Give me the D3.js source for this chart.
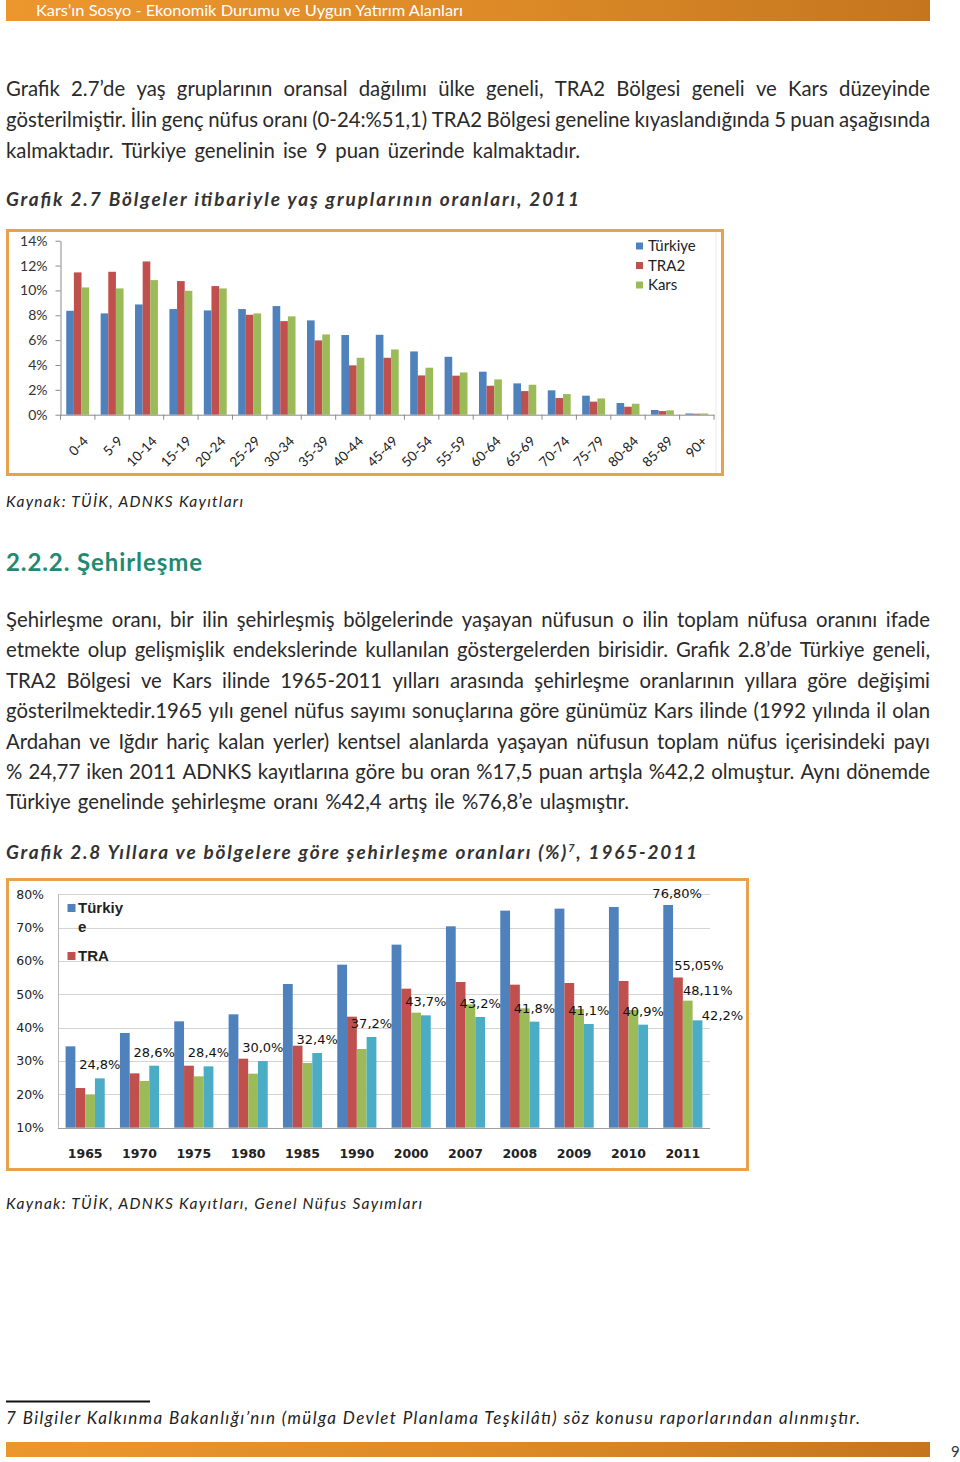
<!DOCTYPE html>
<html><head><meta charset="utf-8">
<script src="https://cdn.jsdelivr.net/npm/d3@7"></script>
<style>
html,body{margin:0;padding:0;background:#fff;}
svg{display:block;}
</style></head>
<body>
<script>
// ---------- DATA ----------
const ageGroups = ["0-4","5-9","10-14","15-19","20-24","25-29","30-34","35-39","40-44","45-49","50-54","55-59","60-64","65-69","70-74","75-79","80-84","85-89","90+"];
const ageTurkiye = [8.36,8.15,8.87,8.50,8.39,8.50,8.74,7.59,6.41,6.43,5.09,4.66,3.46,2.52,1.96,1.53,0.94,0.38,0.10];
const ageTRA2    = [11.45,11.50,12.33,10.75,10.35,8.04,7.53,5.98,3.97,4.58,3.16,3.14,2.33,1.90,1.34,1.05,0.64,0.29,0.08];
const ageKars    = [10.24,10.16,10.83,9.97,10.16,8.15,7.91,6.46,4.58,5.25,3.78,3.40,2.84,2.41,1.66,1.31,0.88,0.35,0.10];
const ageSeries = ["Türkiye","TRA2","Kars"];
const ageTicks = [0,2,4,6,8,10,12,14];

const years = ["1965","1970","1975","1980","1985","1990","2000","2007","2008","2009","2010","2011"];
const urbTurkiye = [34.4,38.4,41.9,44.0,53.1,58.9,64.9,70.4,75.1,75.7,76.2,76.8];
const urbTRA2    = [21.9,26.3,28.6,30.7,34.6,43.3,51.7,53.7,52.9,53.4,54.0,55.05];
const urbSeries3 = [19.9,24.0,25.4,26.2,29.4,33.6,44.5,47.0,45.8,45.6,45.3,48.11];
const urbKars    = [24.8,28.6,28.4,30.0,32.4,37.2,43.7,43.2,41.8,41.1,40.9,42.2];
const urbTicks = [10,20,30,40,50,60,70,80];
const urbLegend = [["Türkiy","e"],["TRA"]];
const lastYearLabels = ["76,80%","55,05%","48,11%","42,2%"];

// ---------- TEXT ----------
const para1 = [
 "Grafik 2.7’de yaş gruplarının oransal dağılımı ülke geneli, TRA2 Bölgesi geneli ve Kars düzeyinde",
 "gösterilmiştir. İlin genç nüfus oranı (0-24:%51,1) TRA2 Bölgesi geneline kıyaslandığında 5 puan aşağısında",
 "kalmaktadır. Türkiye genelinin ise 9 puan üzerinde kalmaktadır."
];
const para2 = [
 "Şehirleşme oranı, bir ilin şehirleşmiş bölgelerinde yaşayan nüfusun o ilin toplam nüfusa oranını ifade",
 "etmekte olup gelişmişlik endekslerinde kullanılan göstergelerden birisidir. Grafik 2.8’de Türkiye geneli,",
 "TRA2 Bölgesi ve Kars ilinde 1965-2011 yılları arasında şehirleşme oranlarının yıllara göre değişimi",
 "gösterilmektedir.1965 yılı genel nüfus sayımı sonuçlarına göre günümüz Kars ilinde (1992 yılında il olan",
 "Ardahan ve Iğdır hariç kalan yerler) kentsel alanlarda yaşayan nüfusun toplam nüfus içerisindeki payı",
 "% 24,77 iken 2011 ADNKS kayıtlarına göre bu oran %17,5 puan artışla %42,2 olmuştur. Aynı dönemde",
 "Türkiye genelinde şehirleşme oranı %42,4 artış ile %76,8’e ulaşmıştır."
];

const C = {blue:"#4F81BD", red:"#C0504D", green:"#9BBB59", cyan:"#4BACC6", frame:"#E9A24C", text:"#2a2a2a"};

const svg = d3.select("body").append("svg").attr("width",960).attr("height",1462);
const defs = svg.append("defs");
const grad = defs.append("linearGradient").attr("id","bar").attr("x1","0").attr("x2","1").attr("y1","0").attr("y2","0");
grad.append("stop").attr("offset","0").attr("stop-color","#EC962E");
grad.append("stop").attr("offset","0.55").attr("stop-color","#DC8A27");
grad.append("stop").attr("offset","1").attr("stop-color","#C4761F");

// header
svg.append("rect").attr("x",6).attr("y",0).attr("width",924).attr("height",21).attr("fill","url(#bar)");
svg.append("text").attr("x",36).attr("y",16).attr("fill","#fff")
  .style("font","14.5px Lato").attr("textLength",427).attr("lengthAdjust","spacingAndGlyphs")
  .text("Kars’ın Sosyo - Ekonomik Durumu ve Uygun Yatırım Alanları");

// ---------- body text with justification ----------
const bodyFont = "Lato";
function measure(str, size){
  const t = svg.append("text").style("font-family",bodyFont).style("font-size",size+"px").attr("xml:space","preserve").text(str);
  const w = t.node().getComputedTextLength(); t.remove(); return w;
}
function fitSize(lines, width, base){
  let s = base;
  lines.forEach(l=>{
    const words = l.split(" ");
    const sum = words.reduce((a,w)=>a+measure(w,base),0);
    const sp = measure("a a",base)-measure("aa",base);
    const need = sum + (words.length-1)*sp*0.85;
    s = Math.min(s, base*width/need);
  });
  return s;
}
const allFull = para1.slice(0,2).concat(para2.slice(0,6));
const bSize = fitSize(allFull, 924, 21);
function drawLine(str, x, y, width){
  const words = str.split(" ");
  const ws = words.map(w=>measure(w,bSize));
  const gap = (width - d3.sum(ws))/(words.length-1);
  const t = svg.append("text").attr("y",y).style("font-family",bodyFont).style("font-size",bSize+"px").attr("fill",C.text);
  let cx = x;
  words.forEach((w,i)=>{ t.append("tspan").attr("x",cx).text(w); cx += ws[i]+gap; });
}
const p1Widths = [924,924,574];
const p2Widths = [924,924,924,924,924,924,623];
para1.forEach((l,i)=>drawLine(l, 6, [96,127,157.5][i], p1Widths[i]));
para2.forEach((l,i)=>drawLine(l, 6, [627,657,687.5,718,748.5,779,809][i], p2Widths[i]));

// titles
svg.append("text").attr("x",6).attr("y",206).style("font","italic bold 19px Lato").attr("fill","#333")
  .attr("textLength",573).attr("lengthAdjust","spacing")
  .text("Grafik 2.7 Bölgeler itibariyle yaş gruplarının oranları, 2011");
svg.append("text").attr("x",6).attr("y",507).style("font","italic 15.5px Lato").attr("fill","#222")
  .attr("textLength",237).attr("lengthAdjust","spacing").text("Kaynak: TÜİK, ADNKS Kayıtları");
svg.append("text").attr("x",6).attr("y",571).style("font","bold 24px Lato").attr("fill","#1F8A70")
  .attr("textLength",196).attr("lengthAdjust","spacing").text("2.2.2. Şehirleşme");
const t2 = svg.append("text").attr("x",6).attr("y",859).style("font","italic bold 19px Lato").attr("fill","#333");
t2.append("tspan").text("Grafik 2.8 Yıllara ve bölgelere göre şehirleşme oranları (%)");
t2.append("tspan").attr("dy",-7).style("font-size","11px").text("7");
t2.append("tspan").attr("dy",7).text(", 1965-2011");
t2.attr("textLength",691).attr("lengthAdjust","spacing");
svg.append("text").attr("x",6).attr("y",1209).style("font","italic 15.5px Lato").attr("fill","#222")
  .attr("textLength",416).attr("lengthAdjust","spacing").text("Kaynak: TÜİK, ADNKS Kayıtları, Genel Nüfus Sayımları");

// footnote
svg.append("line").attr("x1",6).attr("x2",150).attr("y1",1401.5).attr("y2",1401.5).attr("stroke","#111").attr("stroke-width",2);
svg.append("text").attr("x",6).attr("y",1424).style("font","italic 17px Lato").attr("fill","#222")
  .attr("textLength",854).attr("lengthAdjust","spacing")
  .text("7  Bilgiler Kalkınma Bakanlığı’nın (mülga Devlet Planlama Teşkilâtı) söz konusu raporlarından alınmıştır.");
svg.append("rect").attr("x",6).attr("y",1442).attr("width",924).attr("height",15).attr("fill","url(#bar)");
svg.append("text").attr("x",951).attr("y",1457).style("font","15px Lato").attr("fill","#333").text("9");

// ---------- CHART 1 ----------
svg.append("rect").attr("x",7.5).attr("y",230.5).attr("width",715).attr("height",244).attr("fill","#fff").attr("stroke",C.frame).attr("stroke-width",3);
svg.append("line").attr("x1",716).attr("x2",716).attr("y1",232).attr("y2",473).attr("stroke","#ececec");
const c1 = svg.append("g");
const x1 = d3.scaleBand().domain(ageGroups).range([60.5,714]);
const y1 = d3.scaleLinear().domain([0,14]).range([414.7,240.7]);
const bw1 = x1.bandwidth(), barW1 = bw1*0.222, off1 = (bw1-3*barW1)/2;
const ageData = [ageTurkiye, ageTRA2, ageKars];
const ageCols = [C.blue, C.red, C.green];
ageData.forEach((arr,si)=>{
  c1.selectAll(null).data(arr).join("rect")
    .attr("x",(d,i)=>x1(ageGroups[i])+off1+si*barW1).attr("width",barW1)
    .attr("y",d=>y1(d)).attr("height",d=>y1(0)-y1(d)).attr("fill",ageCols[si]);
});
const ay1 = c1.append("g").attr("transform","translate(60.5,0)")
  .call(d3.axisLeft(y1).tickValues(ageTicks).tickFormat(d=>d+"%").tickSize(5).tickSizeOuter(0));
ay1.selectAll("path,line").attr("stroke","#8a8a8a");
ay1.selectAll("text").style("font","14px Lato").attr("fill","#333").attr("x",-13);
const ax1 = c1.append("g").attr("transform",`translate(0,${y1(0)})`)
  .call(d3.axisBottom(x1).tickSize(0).tickFormat(""));
ax1.select("path").attr("stroke","#8a8a8a");
c1.selectAll(null).data(ageGroups.concat(["_end"])).join("line")
  .attr("x1",(d,i)=>i<ageGroups.length? x1(d):x1.range()[1]).attr("x2",(d,i)=>i<ageGroups.length? x1(d):x1.range()[1])
  .attr("y1",y1(0)).attr("y2",y1(0)+5).attr("stroke","#8a8a8a");
c1.selectAll(null).data(ageGroups).join("text")
  .attr("transform",d=>`translate(${x1(d)+bw1/2+8},${y1(0)+24}) rotate(-45)`)
  .attr("text-anchor","end").attr("dy","0.35em").style("font","13.5px Lato").attr("fill","#222").text(d=>d);
const lg1 = c1.append("g");
ageSeries.forEach((s,i)=>{
  const yy = 246 + i*19.5;
  lg1.append("rect").attr("x",636).attr("y",yy-3.5).attr("width",7).attr("height",7).attr("fill",ageCols[i]);
  lg1.append("text").attr("x",648).attr("y",yy).attr("dy","0.35em").style("font","15px Lato").attr("fill","#222").text(s);
});

// ---------- CHART 2 ----------
svg.append("rect").attr("x",7.5).attr("y",879.5).attr("width",740).attr("height",290).attr("fill","#fff").attr("stroke",C.frame).attr("stroke-width",3);
const c2 = svg.append("g");
const x2 = d3.scaleBand().domain(years).range([58,710]);
const y2 = d3.scaleLinear().domain([10,80]).range([1127.7,894.3]);
const bw2 = x2.bandwidth(), barW2 = bw2*0.18, off2 = (bw2-4*barW2)/2;
c2.selectAll(null).data(urbTicks).join("line")
  .attr("x1",58).attr("x2",710).attr("y1",d=>Math.round(y2(d))+0.5).attr("y2",d=>Math.round(y2(d))+0.5)
  .attr("stroke",d=>d===10?"#a0a0a0":"#d4d4d4");
c2.append("line").attr("x1",58.5).attr("x2",58.5).attr("y1",y2(80)).attr("y2",y2(10)).attr("stroke","#b8b8b8");
c2.selectAll(null).data(urbTicks).join("text")
  .attr("x",44).attr("y",d=>y2(d)).attr("dy","0.35em").attr("text-anchor","end")
  .style("font","12.5px 'DejaVu Sans'").attr("fill","#222").text(d=>d+"%");
const urbData = [urbTurkiye, urbTRA2, urbSeries3, urbKars];
const urbCols = [C.blue, C.red, C.green, C.cyan];
urbData.forEach((arr,si)=>{
  c2.selectAll(null).data(arr).join("rect")
    .attr("x",(d,i)=>x2(years[i])+off2+si*barW2).attr("width",barW2)
    .attr("y",d=>y2(d)).attr("height",d=>y2(10)-y2(d)).attr("fill",urbCols[si]);
});
c2.selectAll(null).data(years).join("text")
  .attr("x",d=>x2(d)+bw2/2).attr("y",1158).attr("text-anchor","middle")
  .style("font","bold 12.5px 'DejaVu Sans'").attr("fill","#222").text(d=>d);
const fmt = v => v.toFixed(1).replace(".",",")+"%";
c2.selectAll(null).data(urbKars.slice(0,-1)).join("text")
  .attr("x",(d,i)=>x2(years[i])+off2+3.5*barW2).attr("y",d=>y2(d)-9).attr("text-anchor","middle")
  .style("font","13px 'DejaVu Sans'").attr("fill","#111").text(d=>fmt(d));
const li = years.length-1;
const lastDx = [9,21,20,25], lastDy = [-7,-7,-6,0];
urbData.forEach((arr,si)=>{
  c2.append("text").attr("x",x2(years[li])+off2+(si+0.5)*barW2+lastDx[si]).attr("y",y2(arr[li])+lastDy[si])
    .attr("text-anchor","middle").style("font","13px 'DejaVu Sans'").attr("fill","#111").text(lastYearLabels[si]);
});
const lg2 = c2.append("g");
lg2.append("rect").attr("x",67.5).attr("y",904).attr("width",8).attr("height",8).attr("fill",C.blue);
lg2.append("text").attr("x",78).attr("y",913).style("font","bold 15px 'Liberation Sans'").attr("fill","#222").text(urbLegend[0][0]);
lg2.append("text").attr("x",78).attr("y",931.5).style("font","bold 15px 'Liberation Sans'").attr("fill","#222").text(urbLegend[0][1]);
lg2.append("rect").attr("x",67.5).attr("y",952).attr("width",8).attr("height",8).attr("fill",C.red);
lg2.append("text").attr("x",78).attr("y",961).style("font","bold 15px 'Liberation Sans'").attr("fill","#222").text(urbLegend[1][0]);
</script>
</body></html>
